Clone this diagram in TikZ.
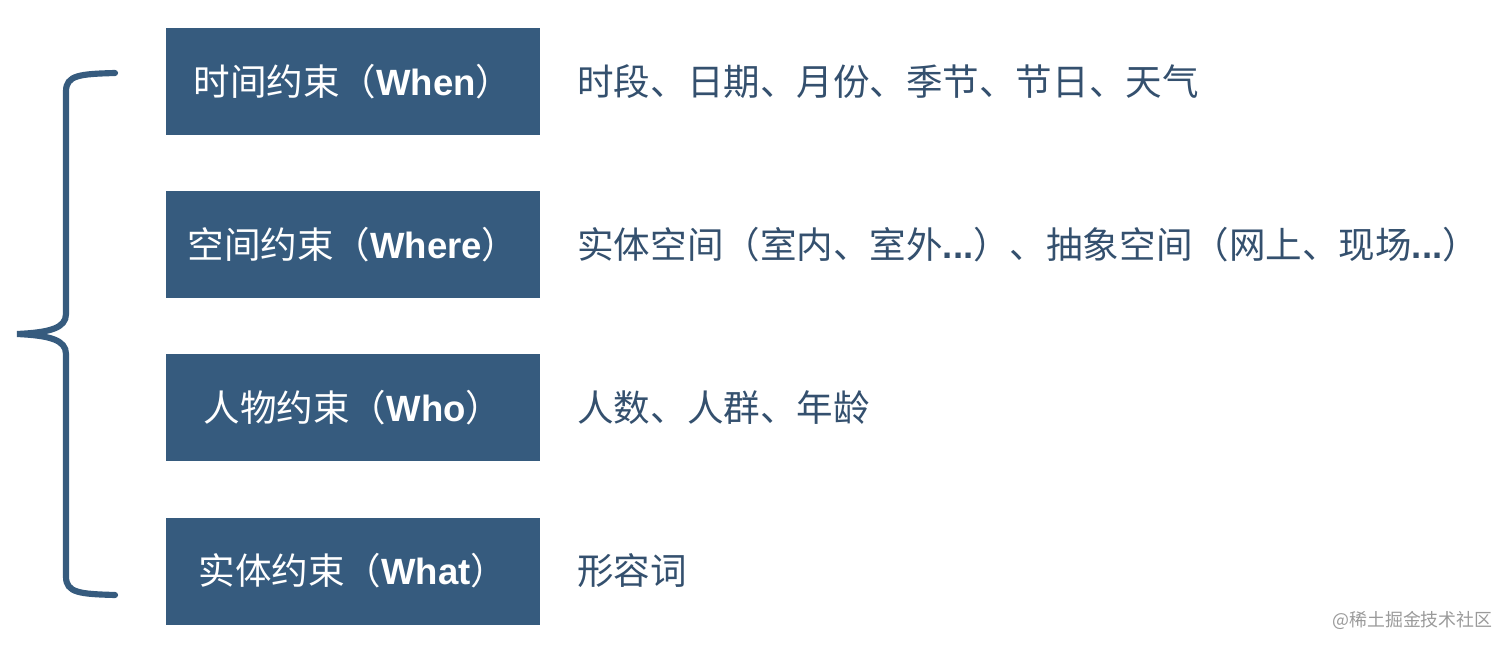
\documentclass[tikz,border=0pt]{standalone}
\usepackage{fontspec}
\setmainfont{Noto Sans CJK SC}
\newfontfamily\lat{Liberation Sans}
\usepackage{tikz}
\definecolor{boxblue}{HTML}{365B7E}
\definecolor{txtblue}{HTML}{34506E}
\definecolor{marks}{HTML}{9A9A9A}

\begin{document}
\begin{tikzpicture}
		[box/.style= {fill=boxblue,text=white,minimum width=7.48cm,minimum height=2.14cm,inner sep=0pt,font=\fontsize{20.8}{24}\selectfont},
		 desc/.style= {anchor=west,inner sep=0pt,text=txtblue,font=\fontsize{20.8}{24}\selectfont},
		 brace/.style= {draw=boxblue,line width=3.5pt,line cap=round}]

		\useasboundingbox (0,0) rectangle (30.24,12.98);

		\node[box] (when) at ( 7.06,11.34) {时间约束（{\lat\bfseries When}）}
		;
		\node[desc] (whenx) at ( 11.54,11.34) {时段、日期、月份、季节、节日、天气}
		;

		\node[box] (where) at ( 7.06,8.09) {空间约束（{\lat\bfseries Where}）}
		;
		\node[desc] (wherex) at ( 11.54,8.09) {实体空间（室内、室外{\lat\bfseries ...}）、抽象空间（网上、现场{\lat\bfseries ...}）}
		;

		\node[box] (who) at ( 7.06,4.83) {人物约束（{\lat\bfseries Who}）}
		;
		\node[desc] (whox) at ( 11.54,4.83) {人数、人群、年龄}
		;

		\node[box] (what) at ( 7.06,1.56) {实体约束（{\lat\bfseries What}）}
		;
		\node[desc] (whatx) at ( 11.54,1.56) {形容词}
		;

		\coordinate (btop) at (2.3,11.52);
		\coordinate (bmid) at (0.34,6.3);
		\coordinate (bbot) at (2.3,1.08);

		\draw[brace] (btop) .. controls (1.6,11.5) and (1.32,11.48) .. (1.32,11.15)
			-- (1.32,6.7) .. controls (1.32,6.42) and (1.0,6.33) .. (bmid)
			.. controls (1.0,6.27) and (1.32,6.18) .. (1.32,5.9)
			-- (1.32,1.45) .. controls (1.32,1.12) and (1.6,1.1) .. (bbot);

		\node[anchor=east,inner sep=0pt,text=marks,font=\fontsize{10.2}{12}\selectfont] (mark) at (29.86,0.58) {@稀土掘金技术社区}
		;

	\end{tikzpicture}
\end{document}
